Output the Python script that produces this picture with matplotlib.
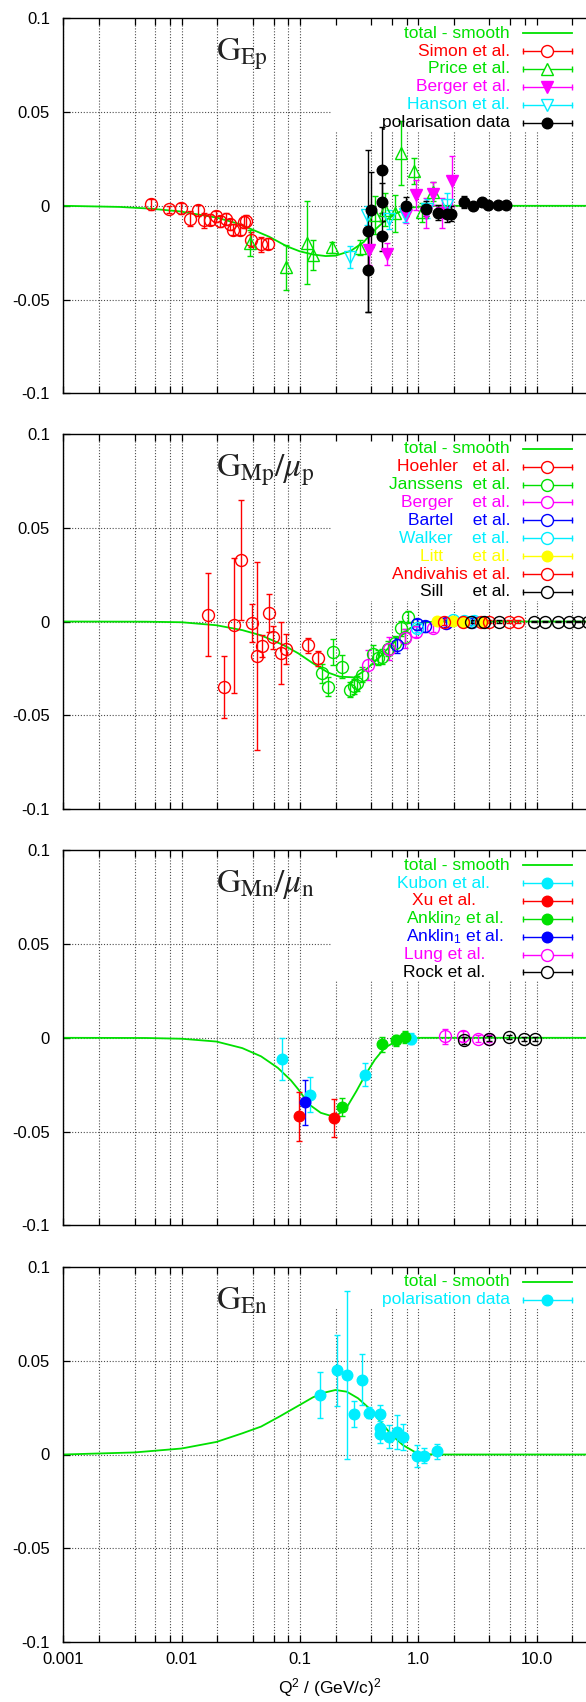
import numpy as np
import matplotlib
matplotlib.use("Agg")
import matplotlib.pyplot as plt
from matplotlib.patches import Rectangle
from matplotlib.ticker import FixedLocator, NullFormatter

plt.rcParams['font.family'] = ['Liberation Sans', 'DejaVu Sans']
plt.rcParams['mathtext.fontset'] = 'custom'
plt.rcParams['mathtext.rm'] = 'Liberation Sans'
plt.rcParams['mathtext.it'] = 'Liberation Sans:italic'
plt.rcParams['mathtext.bf'] = 'Liberation Sans:bold'

# ---------------- data ----------------
# Panel 1: G_Ep
ep_curve_q2 = [0.001, 0.003, 0.0054, 0.0097, 0.0198, 0.03, 0.038, 0.055, 0.0775, 0.1, 0.13, 0.165,
               0.2, 0.27, 0.347, 0.41, 0.51, 0.64, 0.86, 1.24, 100]
ep_curve_g = [0, -0.0006, -0.0015, -0.003, -0.0063, -0.0095, -0.0122, -0.0165, -0.0216, -0.0243, -0.026,
              -0.0268, -0.0266, -0.024, -0.0193, -0.014, -0.0086, -0.0042, -0.001, 0, 0]
simon_q2 = [0.0055, 0.0078, 0.0098, 0.0118, 0.0137, 0.0156, 0.0174, 0.0195, 0.0211, 0.0236, 0.0257,
            0.0274, 0.0312, 0.0339, 0.0350, 0.0388, 0.0467, 0.0540]
simon_g = [0.0008, -0.0019, -0.0013, -0.0068, -0.0024, -0.0077, -0.0074, -0.0056, -0.0083, -0.0070,
           -0.0099, -0.0127, -0.0127, -0.0086, -0.0081, -0.0180, -0.0206, -0.0202]
simon_err = [0.003, 0.002, 0.003, 0.004, 0.003, 0.004, 0.003, 0.003, 0.003, 0.003, 0.003, 0.003,
             0.003, 0.003, 0.003, 0.004, 0.004, 0.003]
price_q2 = [0.038, 0.077, 0.114, 0.128, 0.188, 0.322, 0.43, 0.52, 0.64, 0.71, 0.93, 1.07, 1.34]
price_g = [-0.0197, -0.0327, -0.0197, -0.0264, -0.0222, -0.0223, -0.005, -0.002, -0.004, 0.0280,
           0.0185, -0.0035, 0.0075]
price_err = [0.007, 0.012, 0.022, 0.008, 0.003, 0.004, 0.010, 0.009, 0.010, 0.017, 0.007, 0.005, 0.005]
berger1_q2 = [0.384, 0.548, 0.79, 0.958, 1.16, 1.34, 1.58, 1.92]
berger1_g = [-0.0238, -0.0256, -0.005, 0.0056, -0.0038, 0.0065, -0.004, 0.0133]
berger1_err = [0.008, 0.006, 0.004, 0.008, 0.008, 0.006, 0.008, 0.0135]
hanson_q2 = [0.265, 0.367, 0.57, 0.773, 1.18, 1.74]
hanson_g = [-0.0273, -0.005, -0.0072, -0.0045, -0.0015, 0.0006]
hanson_err = [0.006, 0.005, 0.005, 0.004, 0.005, 0.006]
pol1_q2 = [0.378, 0.378, 0.397, 0.493, 0.493, 0.493, 0.789, 1.16, 1.48, 1.74, 1.88, 2.44, 2.92,
           3.44, 3.92, 4.70, 5.52]
pol1_g = [-0.0134, -0.0345, -0.002, 0.019, 0.002, -0.0163, -0.0003, -0.0015, -0.0038, -0.0045,
          -0.0042, 0.002, -0.0003, 0.002, 0.0003, 0.0003, 0.0003]
pol1_err = [0.043, 0.022, 0.020, 0.023, 0.010, 0.008, 0.005, 0.004, 0.004, 0.004, 0.004, 0.003,
            0.002, 0.002, 0.002, 0.001, 0.001]

# Panel 2: G_Mp / mu_p
mp_curve_q2 = [0.001, 0.005, 0.01, 0.0197, 0.0326, 0.047, 0.0727, 0.097, 0.129, 0.174, 0.216, 0.288,
               0.358, 0.445, 0.555, 0.69, 0.857, 1.06, 1.43, 100]
mp_curve_g = [0, -0.0001, -0.0004, -0.002, -0.0046, -0.0074, -0.0126, -0.017, -0.0223, -0.0273,
              -0.0294, -0.0298, -0.0259, -0.0206, -0.0144, -0.0085, -0.0035, -0.0007, 0, 0]
hoehler_q2 = [0.0168, 0.0227, 0.0277, 0.032, 0.039, 0.0437, 0.048, 0.055, 0.0597, 0.069, 0.077, 0.116, 0.143]
hoehler_g = [0.0037, -0.0351, -0.002, 0.0326, -0.0007, -0.0184, -0.013, 0.0046, -0.0085, -0.0167,
             -0.0144, -0.0126, -0.0197]
hoehler_err = [0.022, 0.0165, 0.036, 0.032, 0.010, 0.050, 0.006, 0.010, 0.006, 0.0165, 0.008, 0.004, 0.004]
janssens_q2 = [0.153, 0.174, 0.191, 0.229, 0.263, 0.285, 0.306, 0.334, 0.415, 0.453, 0.498, 0.555,
               0.642, 0.716, 0.77, 0.827]
janssens_g = [-0.0277, -0.0348, -0.0161, -0.0241, -0.0365, -0.0344, -0.033, -0.0285, -0.0174, -0.0193,
              -0.0188, -0.0144, -0.0117, -0.0037, -0.008, 0.0025]
janssens_err = [0.005, 0.005, 0.007, 0.006, 0.004, 0.004, 0.004, 0.004, 0.005, 0.004, 0.004, 0.004,
                0.004, 0.004, 0.004, 0.003]
berger2_q2 = [0.38, 0.567, 0.77, 0.957, 1.33, 1.71]
berger2_g = [-0.0232, -0.0144, -0.009, -0.0055, -0.0035, -0.0007]
berger2_err = [0.008, 0.006, 0.005, 0.003, 0.002, 0.002]
bartel_q2 = [0.665, 0.98, 1.15, 1.71, 2.84]
bartel_g = [-0.0126, -0.0014, -0.0025, -0.001, 0.0]
bartel_err = [0.004, 0.003, 0.003, 0.002, 0.002]
walker_q2 = [0.98, 1.98, 2.46, 2.95]
walker_g = [-0.0037, 0.0007, 0.0003, 0.0003]
walker_err = [0.002, 0.002, 0.002, 0.002]
litt_q2 = [1.45, 1.98, 2.43, 3.49]
litt_g = [0.0003, 0.0003, 0.0, 0.0]
litt_err = [0.001, 0.001, 0.001, 0.001]
andivahis_q2 = [1.65, 2.37, 3.41, 3.94, 5.8, 6.95]
andivahis_g = [0.0, 0.0, 0.0, 0.0, 0.0, 0.0]
andivahis_err = [0.002, 0.001, 0.001, 0.001, 0.001, 0.001]
sill_q2 = [2.79, 3.62, 4.84, 9.44, 11.9, 15.3, 18.8, 22.5, 27.0]
sill_g = [0.0, 0.0, 0.0, 0.0, 0.0, 0.0, 0.0, 0.0, 0.0]
sill_err = [0.001, 0.001, 0.001, 0.0005, 0.0005, 0.0005, 0.0005, 0.0005, 0.0005]

# Panel 3: G_Mn / mu_n
mn_curve_q2 = [0.001, 0.005, 0.01, 0.0197, 0.0326, 0.047, 0.065, 0.084, 0.0975, 0.12, 0.15, 0.18,
               0.209, 0.25, 0.30, 0.358, 0.43, 0.517, 0.643, 0.86, 1.06, 100]
mn_curve_g = [0, -0.0001, -0.0005, -0.002, -0.0055, -0.0099, -0.016, -0.0227, -0.0277, -0.0356, -0.040,
              -0.0415, -0.0411, -0.0369, -0.0285, -0.0197, -0.0117, -0.0055, -0.002, -0.0004, 0, 0]
kubon_q2 = [0.0711, 0.1225, 0.354, 0.877]
kubon_g = [-0.0113, -0.0303, -0.0197, -0.0004]
kubon_err = [0.011, 0.0094, 0.006, 0.003]
xu_q2 = [0.0986, 0.196]
xu_g = [-0.0418, -0.0427]
xu_err = [0.013, 0.010]
anklin2_q2 = [0.229, 0.497, 0.643, 0.77]
anklin2_g = [-0.0369, -0.0034, -0.0014, 0.0004]
anklin2_err = [0.005, 0.004, 0.003, 0.003]
anklin1_q2 = [0.11]
anklin1_g = [-0.0344]
anklin1_err = [0.012]
lung_q2 = [1.675, 2.41, 3.18, 3.95]
lung_g = [0.0007, 0.0007, -0.0005, -0.0005]
lung_err = [0.004, 0.003, 0.002, 0.002]
rock_q2 = [2.43, 3.95, 5.8, 7.87, 9.64]
rock_g = [-0.0014, -0.0004, 0.0004, -0.0005, -0.0005]
rock_err = [0.002, 0.0015, 0.001, 0.001, 0.001]

# Panel 4: G_En
en_curve_q2 = [0.001, 0.004, 0.01, 0.0197, 0.0326, 0.047, 0.067, 0.097, 0.129, 0.161, 0.2, 0.249, 0.31,
               0.386, 0.479, 0.595, 0.74, 0.92, 1.14, 1.43, 100]
en_curve_g = [0, 0.0011, 0.0032, 0.0067, 0.0113, 0.0149, 0.0202, 0.026, 0.0305, 0.033, 0.0344, 0.0335,
              0.030, 0.0246, 0.0176, 0.0105, 0.0051, 0.0016, 0.0002, 0, 0]
en_q2 = [0.147, 0.205, 0.249, 0.289, 0.334, 0.386, 0.473, 0.480, 0.480, 0.563, 0.657, 0.743, 0.98, 1.13, 1.45]
en_g = [0.0317, 0.045, 0.0424, 0.0215, 0.040, 0.0223, 0.0215, 0.014, 0.011, 0.0096, 0.0122, 0.0092,
        -0.0007, -0.0007, 0.0018]
en_err = [0.0124, 0.019, 0.045, 0.007, 0.0137, 0.003, 0.005, 0.004, 0.005, 0.006, 0.009, 0.007, 0.006,
          0.004, 0.004]

x_tick_values = [0.001, 0.01, 0.1, 1.0, 10.0, 100.0]
x_tick_labels = ['0.001', '0.01', '0.1', '1.0', '10.0', '']
y_tick_values = [-0.1, -0.05, 0.0, 0.05, 0.1]
y_tick_labels = ['-0.1', '-0.05', '0', '0.05', '0.1']

# ---------------- styling ----------------
RED, GREEN, MAG, CYAN, BLUE, YEL, BLK = '#ff0000', '#00e000', '#ff00ff', '#00eeff', '#0000ff', '#ffff00', '#000000'

panels = [
    dict(title=r'$\mathrm{G}_{\mathrm{Ep}}$',
         curve=(ep_curve_q2, ep_curve_g),
         series=[
             ('Simon et al.', simon_q2, simon_g, simon_err, RED, 'o', False, 510),
             ('Price et al.', price_q2, price_g, price_err, GREEN, '^', False, 510),
             ('Berger et al.', berger1_q2, berger1_g, berger1_err, MAG, 'v', True, 510),
             ('Hanson et al.', hanson_q2, hanson_g, hanson_err, CYAN, 'v', False, 510),
             ('polarisation data', pol1_q2, pol1_g, pol1_err, BLK, 'o', True, 510),
         ]),
    dict(title=r'$\mathrm{G}_{\mathrm{Mp}}/\mu_{\mathrm{p}}$',
         curve=(mp_curve_q2, mp_curve_g),
         series=[
             ('Hoehler   et al.', hoehler_q2, hoehler_g, hoehler_err, RED, 'o', False, 510),
             ('Janssens  et al.', janssens_q2, janssens_g, janssens_err, GREEN, 'o', False, 510),
             ('Berger    et al.', berger2_q2, berger2_g, berger2_err, MAG, 'o', False, 510),
             ('Bartel    et al.', bartel_q2, bartel_g, bartel_err, BLUE, 'o', False, 510),
             ('Walker    et al.', walker_q2, walker_g, walker_err, CYAN, 'o', False, 510),
             ('Litt      et al.', litt_q2, litt_g, litt_err, YEL, 'o', True, 510),
             ('Andivahis et al.', andivahis_q2, andivahis_g, andivahis_err, RED, 'o', False, 510),
             ('Sill      et al.', sill_q2, sill_g, sill_err, BLK, 'o', False, 510),
         ]),
    dict(title=r'$\mathrm{G}_{\mathrm{Mn}}/\mu_{\mathrm{n}}$',
         curve=(mn_curve_q2, mn_curve_g),
         series=[
             ('Kubon et al.', kubon_q2, kubon_g, kubon_err, CYAN, 'o', True, 490),
             ('Xu et al.', xu_q2, xu_g, xu_err, RED, 'o', True, 476),
             (r'Anklin$_2$ et al.', anklin2_q2, anklin2_g, anklin2_err, GREEN, 'o', True, 504),
             (r'Anklin$_1$ et al.', anklin1_q2, anklin1_g, anklin1_err, BLUE, 'o', True, 504),
             ('Lung et al.', lung_q2, lung_g, lung_err, MAG, 'o', False, 485),
             ('Rock et al.', rock_q2, rock_g, rock_err, BLK, 'o', False, 485),
         ]),
    dict(title=r'$\mathrm{G}_{\mathrm{En}}$',
         curve=(en_curve_q2, en_curve_g),
         series=[
             ('polarisation data', en_q2, en_g, en_err, CYAN, 'o', True, 510),
         ]),
]

W, H = 586, 1702
fig = plt.figure(figsize=(W / 100, H / 100), dpi=100)
LEFT = 63.3
DEC = 118.3
XMIN, XMAX = 1e-3, 1e2
AXW = DEC * np.log10(XMAX / XMIN)
PH = 375.0
TOPS = [18.3, 434.0, 850.3, 1267.0]
ROW0, ROWD = 14.8, 17.9
SAMP_L, SAMP_R, SAMP_M = 522.7, 571.7, 547.2
BOX_L = 332.0

grid_x = [m * 10.0 ** k for k in range(-3, 2) for m in (1, 2, 4, 6, 8)] + [100.0]
minor_x = [v for v in grid_x if v not in x_tick_values]


def fx(px):
    return (px - LEFT) / AXW


def fy(rel):
    return 1 - rel / PH


for i, p in enumerate(panels):
    top = TOPS[i]
    ax = fig.add_axes([LEFT / W, 1 - (top + PH) / H, AXW / W, PH / H])
    ax.set_xscale('log')
    ax.set_xlim(XMIN, XMAX)
    ax.set_ylim(-0.1, 0.1)
    ax.spines['right'].set_visible(False)
    for s in ('left', 'bottom', 'top'):
        ax.spines[s].set_linewidth(1.0)

    # grid
    ax.vlines(grid_x, -0.1, 0.1, colors='0.3', linestyles=(0, (1, 1.6)), lw=0.8, zorder=0.5)
    ax.hlines([-0.05, 0.0, 0.05], XMIN, XMAX, colors='0.3', linestyles=(0, (1, 1.6)), lw=0.8, zorder=0.5)

    # ticks
    ax.xaxis.set_major_locator(FixedLocator(x_tick_values))
    ax.xaxis.set_minor_locator(FixedLocator(minor_x))
    ax.xaxis.set_minor_formatter(NullFormatter())
    if i == len(panels) - 1:
        ax.set_xticklabels(x_tick_labels)
    else:
        ax.set_xticklabels([''] * len(x_tick_values))
    ax.set_yticks(y_tick_values)
    ax.set_yticklabels(y_tick_labels)
    ax.tick_params(axis='x', which='both', direction='in', top=True, bottom=True, length=5,
                   width=0.9, labelsize=12, pad=7)
    ax.tick_params(axis='y', which='both', direction='in', left=True, right=False, length=5,
                   width=0.9, labelsize=12, pad=9.5)

    # legend background box
    nrows = len(p['series']) + 1
    box_bottom = ROW0 + ROWD * (nrows - 1) + 8.5
    ax.add_patch(Rectangle((fx(BOX_L), fy(box_bottom)), 1.0, box_bottom / PH,
                           transform=ax.transAxes, facecolor='white', edgecolor='none', zorder=0.8))

    # smooth curve
    cq, cg = p['curve']
    ax.plot(cq, cg, color=GREEN, lw=1.3, zorder=2.5)

    # data series
    for (lab, q, g, e, col, mk, filled, tx) in p['series']:
        ms = 7.6 if filled else 8.6
        if mk in ('^', 'v'):
            ms = 8.0
        ax.errorbar(q, g, yerr=e, fmt=mk, color=col, mfc=col if filled else 'none', mec=col,
                    mew=1.0, ms=ms, elinewidth=1.0, capsize=2.5, capthick=1.0, zorder=3)

    # legend
    ax.text(fx(510), fy(ROW0), 'total - smooth', color=GREEN, fontsize=12.5, ha='right', va='center',
            transform=ax.transAxes, zorder=6)
    ax.plot([fx(SAMP_L), fx(SAMP_R)], [fy(ROW0)] * 2, color=GREEN, lw=1.3, transform=ax.transAxes,
            clip_on=False, zorder=6)
    for j, (lab, q, g, e, col, mk, filled, tx) in enumerate(p['series']):
        yy = fy(ROW0 + ROWD * (j + 1))
        ax.text(fx(tx), yy, lab, color=col, fontsize=12.5, ha='right', va='center',
                transform=ax.transAxes, zorder=6)
        ax.plot([fx(SAMP_L), fx(SAMP_R)], [yy, yy], color=col, lw=1.0, transform=ax.transAxes,
                clip_on=False, zorder=6)
        ax.plot([fx(SAMP_L), fx(SAMP_R)], [yy, yy], ls='none', marker='|', ms=4, mew=1.0, color=col,
                transform=ax.transAxes, clip_on=False, zorder=6)
        ms = 7.6 if filled else 8.6
        if mk in ('^', 'v'):
            ms = 8.0
        ax.plot([fx(SAMP_M)], [yy], ls='none', marker=mk, ms=ms, mew=1.0, mec=col,
                mfc=col if filled else 'white', transform=ax.transAxes, clip_on=False, zorder=7)

    # panel title
    ax.text(fx(215.5), fy(42.0), p['title'], fontsize=24, ha='left', va='baseline',
            color='#222222', math_fontfamily='stix', transform=ax.transAxes, zorder=6)

fig.text(329.5 / W, 1 - 1688 / H, r'Q$^2$ / (GeV/c)$^2$', fontsize=12.5, ha='center', va='center')

fig.savefig('out.png', dpi=100)
